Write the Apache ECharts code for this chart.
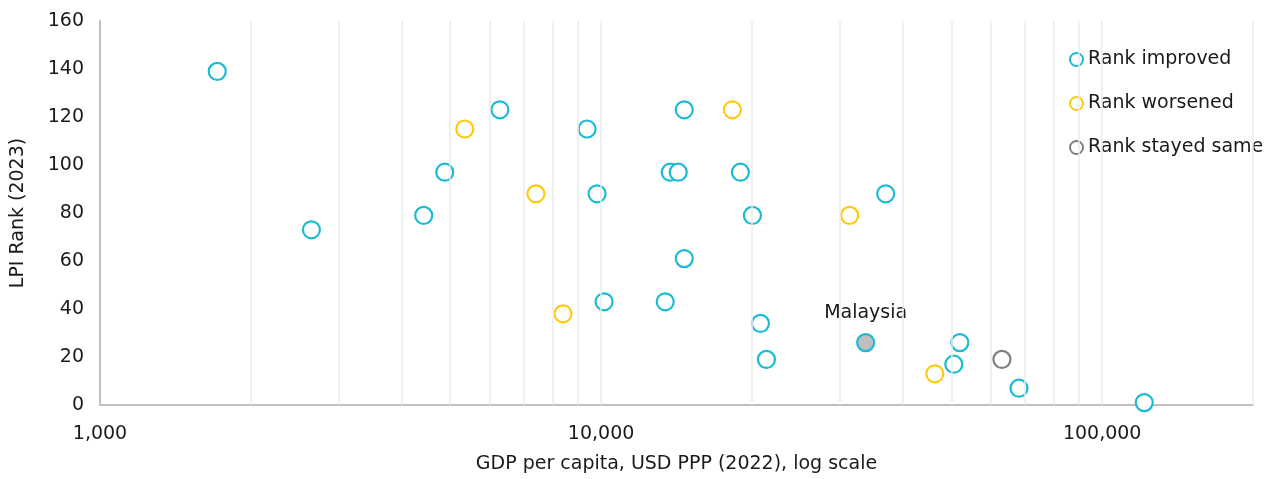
<!DOCTYPE html>
<html>
<head>
<meta charset="utf-8">
<script src="https://cdn.jsdelivr.net/npm/echarts@6/dist/echarts.min.js"></script>
<style>html,body{margin:0;padding:0;background:#fff}#c{width:1270px;height:479px}</style>
</head>
<body>
<div id="c"></div>
<script>
// GDP per capita (USD PPP 2022), LPI rank 2023
const improvedGDP  = [1714, 2642, 4426, 4875, 6281, 9376, 9817, 10139, 13428, 13740, 14256, 14655, 14655, 18967, 20045, 20797, 21380, 36983, 52000, 50582, 68234, 121339];
const improvedRank = [139, 73, 79, 97, 123, 115, 88, 43, 43, 97, 97, 123, 61, 97, 79, 34, 19, 88, 26, 17, 7, 1];
const worsenedGDP  = [5346, 7413, 8395, 18281, 31333, 46345];
const worsenedRank = [115, 88, 38, 123, 79, 13];
const sameGDP  = [63096];
const sameRank = [19];
const highlightName = 'Malaysia';
const highlightGDP = 33729;
const highlightRank = 26;
const gridValues = [2000,3000,4000,5000,6000,7000,8000,9000,10000,20000,30000,40000,50000,60000,70000,80000,90000,100000,200000];
const seriesNames = ['Rank improved', 'Rank worsened', 'Rank stayed same'];

const FONT = 'DejaVu Sans';
const FS = 19;
const TXT = '#1a1a1a';
const CYAN = '#1ABBD3', GOLD = '#FFC90E', GREY = '#7F7F7F';

const zip = (xs, ys) => xs.map((x, i) => [x, ys[i]]);

const improvedData = zip(improvedGDP, improvedRank);
improvedData.push({
  value: [highlightGDP, highlightRank],
  name: highlightName,
  itemStyle: { color: '#BFBFBF', borderColor: CYAN, borderWidth: 2.2 },
  label: { show: true, position: 'top', distance: 10, formatter: highlightName,
           fontFamily: FONT, fontSize: FS, color: TXT }
});

const mk = (name, data, color) => ({
  name, type: 'scatter', data, symbol: 'circle', symbolSize: 17, z: 3,
  itemStyle: { color: '#ffffff', borderColor: color, borderWidth: 2.2, opacity: 1 },
  emphasis: { disabled: true }
});

const chart = echarts.init(document.getElementById('c'), null, { renderer: 'canvas' });
chart.setOption({
  animation: false,
  textStyle: { fontFamily: FONT },
  grid: { left: 100, right: 17, top: 21, bottom: 73 },
  legend: {
    data: seriesNames,
    orient: 'vertical',
    left: 1061, top: 40,
    backgroundColor: '#ffffff',
    padding: [10, 8, 10, 8],
    itemWidth: 13, itemHeight: 13, itemGap: 25,
    textStyle: { fontFamily: FONT, fontSize: FS, color: TXT, padding: [0, 0, 0, 0] }
  },
  xAxis: {
    type: 'log', logBase: 10, min: 1000, max: 200000,
    name: 'GDP per capita, USD PPP (2022), log scale',
    nameLocation: 'middle', nameGap: 50,
    nameTextStyle: { fontFamily: FONT, fontSize: FS, color: TXT },
    axisLine: { lineStyle: { color: '#BFBFBF', width: 2 } },
    axisTick: { show: false },
    splitLine: { show: false },
    axisLabel: { fontFamily: FONT, fontSize: FS, color: TXT, margin: 20,
      formatter: v => (v === 1000 || v === 10000 || v === 100000) ? v.toLocaleString('en-US') : '' }
  },
  yAxis: {
    type: 'value', min: 0, max: 160, interval: 20,
    name: 'LPI Rank (2023)',
    nameLocation: 'middle', nameGap: 72, nameRotate: 90,
    nameTextStyle: { fontFamily: FONT, fontSize: FS, color: TXT },
    axisLine: { show: true, lineStyle: { color: '#BFBFBF', width: 2 } },
    axisTick: { show: false },
    splitLine: { show: false },
    axisLabel: { fontFamily: FONT, fontSize: FS, color: TXT, margin: 16 }
  },
  series: [
    {
      name: 'grid', type: 'scatter', data: [], z: 1, silent: true,
      markLine: {
        silent: true, symbol: ['none', 'none'], animation: false,
        label: { show: false },
        lineStyle: { color: '#EBEBEB', width: 1.5, type: 'solid' },
        emphasis: { disabled: true },
        data: gridValues.map(v => ({ xAxis: v }))
      }
    },
    mk(seriesNames[0], improvedData, CYAN),
    mk(seriesNames[1], zip(worsenedGDP, worsenedRank), GOLD),
    mk(seriesNames[2], zip(sameGDP, sameRank), GREY)
  ]
});
</script>
</body>
</html>
